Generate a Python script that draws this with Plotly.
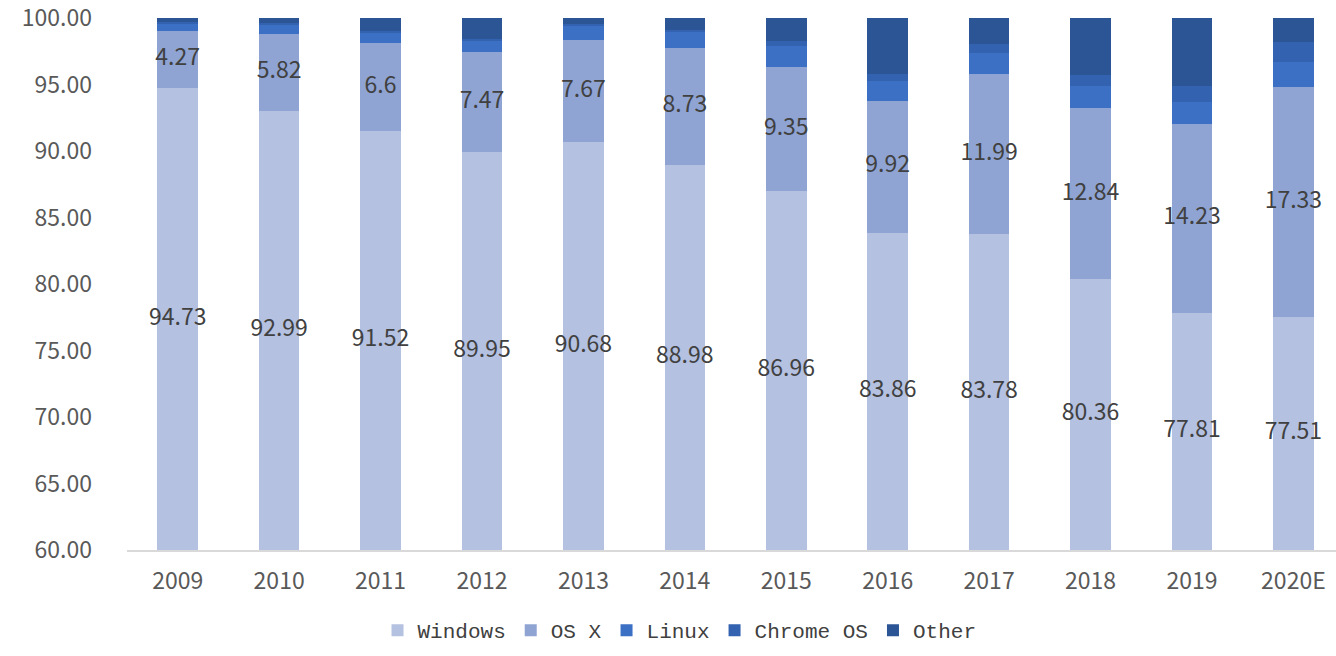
import plotly.graph_objects as go

years = ["2009", "2010", "2011", "2012", "2013", "2014", "2015", "2016", "2017", "2018", "2019", "2020E"]
windows = [94.73, 92.99, 91.52, 89.95, 90.68, 88.98, 86.96, 83.86, 83.78, 80.36, 77.81, 77.51]
osx = [4.27, 5.82, 6.6, 7.47, 7.67, 8.73, 9.35, 9.92, 11.99, 12.84, 14.23, 17.33]
linux = [0.6, 0.7, 0.78, 0.88, 1.1, 1.29, 1.59, 1.52, 1.63, 1.65, 1.61, 1.88]
chrome_os = [0.1, 0.1, 0.1, 0.1, 0.1, 0.1, 0.4, 0.5, 0.65, 0.85, 1.25, 1.5]
other = [0.3, 0.39, 1.0, 1.6, 0.45, 0.9, 1.7, 4.2, 1.95, 4.3, 5.1, 1.78]
y_ticks = [60, 65, 70, 75, 80, 85, 90, 95, 100]

Y_MIN, Y_MAX = 60, 100
label_font = dict(family="Noto Sans CJK SC", size=23, color="#404040")

series = [
    ("Windows", windows, "#b4c1e1"),
    ("OS X", osx, "#8fa4d3"),
    ("Linux", linux, "#3b70c5"),
    ("Chrome OS", chrome_os, "#3362b0"),
    ("Other", other, "#2c5596"),
]

fig = go.Figure()
for name, vals, color in series:
    fig.add_trace(go.Bar(
        x=years, y=vals, name=name,
        marker=dict(color=color, line=dict(width=0)),
        hoverinfo="x+y+name",
    ))

# windows labels sit in the middle of the visible part of the bar (axis starts at 60)
fig.add_trace(go.Scatter(
    x=years, y=[(Y_MIN + w) / 2 for w in windows],
    mode="text", text=[f"{v:g}" for v in windows],
    textfont=label_font, showlegend=False, hoverinfo="skip",
))
# os x labels in the middle of their segment
fig.add_trace(go.Scatter(
    x=years, y=[w + o / 2 for w, o in zip(windows, osx)],
    mode="text", text=[f"{v:g}" for v in osx],
    textfont=label_font, showlegend=False, hoverinfo="skip",
))

fig.update_layout(
    barmode="stack",
    bargap=0.6,
    width=1336, height=656,
    margin=dict(l=127, r=0, t=18, b=106),
    plot_bgcolor="white", paper_bgcolor="white",
    font=dict(family="Noto Sans CJK SC", color="#595959"),
    showlegend=True,
    legend=dict(
        orientation="h", x=0.457, xanchor="center", y=-0.113, yanchor="top",
        font=dict(family="Liberation Mono", size=21, color="#404040"),
        itemwidth=30, traceorder="normal",
    ),
)
fig.update_xaxes(
    type="category", range=[-0.5, 11.42], automargin=False,
    showline=True, linecolor="#d9d9d9", linewidth=2,
    ticks="", ticklabelstandoff=9,
    tickfont=dict(size=23, color="#595959"),
    showgrid=False,
)
fig.update_yaxes(
    range=[Y_MIN, Y_MAX], tickmode="array", tickvals=y_ticks,
    ticktext=[f"{t:.2f}" for t in y_ticks], automargin=False,
    showgrid=False, zeroline=False, showline=False,
    ticks="", ticklabelstandoff=34, ticklabeloverflow="allow",
    tickfont=dict(size=23, color="#595959"),
)

# drop the default 8px body margin so the figure fills the window
fig.write_html(
    "out.html",
    config={"displayModeBar": False},
    post_script="document.body.style.margin='0';",
)
